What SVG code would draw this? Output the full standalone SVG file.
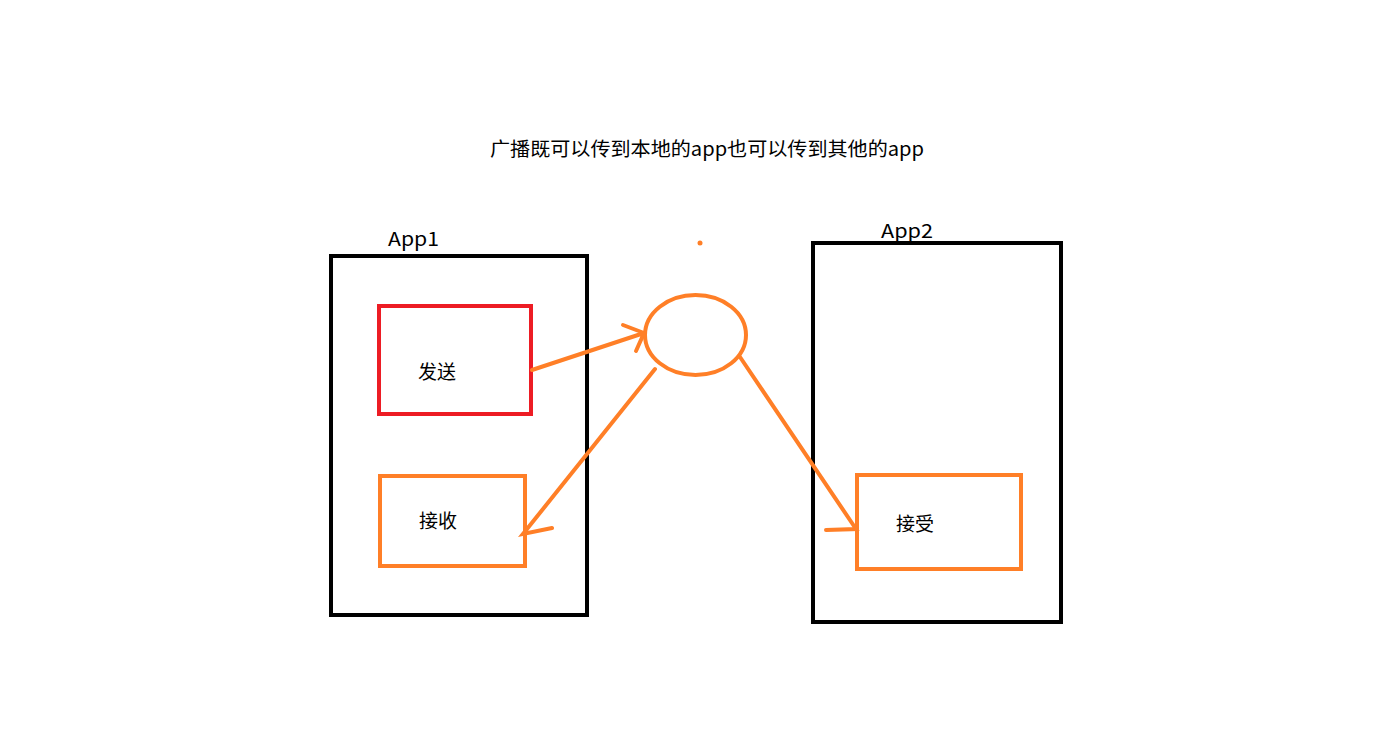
<svg xmlns="http://www.w3.org/2000/svg" width="1398" height="741" viewBox="0 0 1398 741">
<style>
text{font-family:"Noto Sans CJK SC","Liberation Sans",sans-serif;fill:#000;font-size:19px}
.box{fill:none;stroke:#000;stroke-width:4}
.org{fill:none;stroke:#ff7f27;stroke-width:4;stroke-linecap:round}
.red{fill:none;stroke:#ed1c24;stroke-width:4}
</style>
<rect width="1398" height="741" fill="#fff"/>
<text x="490" y="156" textLength="434" lengthAdjust="spacingAndGlyphs">广播既可以传到本地的app也可以传到其他的app</text>
<g id="app1">
<rect class="box" x="331" y="256" width="256" height="359"/>
<text x="388" y="246" textLength="51" lengthAdjust="spacingAndGlyphs">App1</text>
</g>
<g id="app2">
<rect class="box" x="813" y="243" width="248" height="379"/>
<text x="881" y="238" textLength="52" lengthAdjust="spacingAndGlyphs">App2</text>
</g>
<g id="send">
<rect class="red" x="379" y="306" width="152" height="108"/>
<text x="418" y="379">发送</text>
</g>
<g id="recv1">
<rect class="org" style="stroke-linecap:butt" x="380" y="476" width="145" height="90"/>
<text x="419" y="528">接收</text>
</g>
<g id="recv2">
<rect class="org" style="stroke-linecap:butt" x="857" y="475" width="164" height="94"/>
<text x="896" y="531">接受</text>
</g>
<g id="broadcast">
<ellipse class="org" cx="695.5" cy="335" rx="50.5" ry="40"/>
<ellipse cx="700" cy="243" rx="2.5" ry="2.5" fill="#ff7f27"/>
</g>
<g id="connectors">
<path class="org" d="M532 370 L644 333 M623 325 L644 333 L636 351"/>
<path class="org" d="M655 369 L523 534 L552 528"/>
<path class="org" d="M740 357 L856 529 L826 530"/>
</g>
</svg>
